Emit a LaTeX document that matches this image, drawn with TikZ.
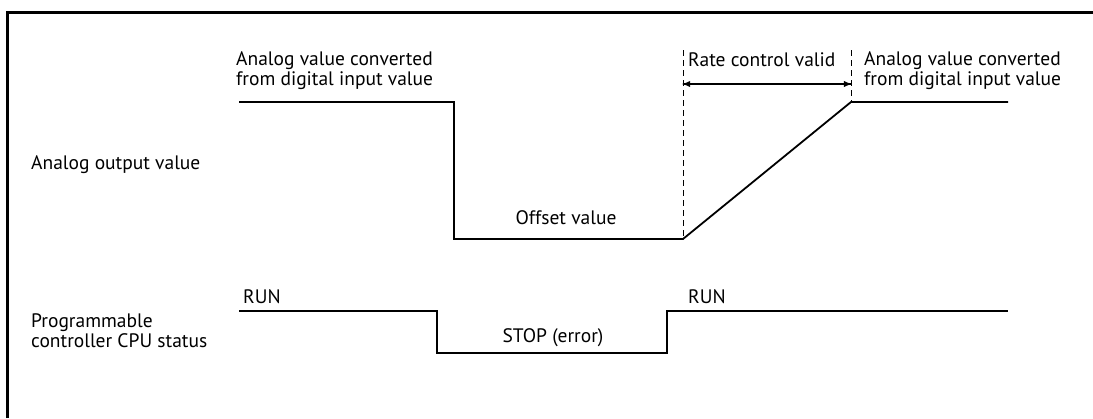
\documentclass[tikz,border=0pt]{standalone}
\usepackage{fontspec}
\setmainfont{PT Sans}
\begin{document}
\begin{tikzpicture}[x=1pt, y=-1pt,
            label/.style={inner sep=0pt, align=left, font=\fontsize{19.5}{20}\selectfont},
            wave/.style={line width=1.8pt},
            guide/.style={line width=0.8pt, dash pattern=on 6pt off 4pt},
        ]
            \useasboundingbox (0,0) rectangle (1093,418);
            \draw[line width=3pt] (7,418) -- (7,12) -- (1093,12);
            % analog output waveform
            \coordinate (a1) at (239,102);
            \coordinate (a2) at (454,102);
            \coordinate (a3) at (454,239);
            \coordinate (a4) at (683,239);
            \coordinate (a5) at (851,102);
            \coordinate (a6) at (1008,102);
            \draw[wave] (a1) -- (a2) -- (a3) -- (a4) -- (a5) -- (a6);
            % CPU status waveform
            \coordinate (c1) at (239,311);
            \coordinate (c2) at (437,311);
            \coordinate (c3) at (437,353);
            \coordinate (c4) at (667,353);
            \coordinate (c5) at (667,311);
            \coordinate (c6) at (1008,311);
            \draw[wave] (c1) -- (c2) -- (c3) -- (c4) -- (c5) -- (c6);
            % rate control region
            \coordinate (r1) at (683,50);
            \coordinate (r2) at (851,50);
            \coordinate (s1) at (683,84);
            \coordinate (s2) at (851,84);
            \draw[guide] (r1) -- (a4);
            \draw[guide] (r2) -- (a5);
            \draw[line width=1.8pt, -latex, shorten >=-1pt] (s1) -- (s2);
            \draw[line width=1.8pt, -latex, shorten >=-1pt] (s2) -- (s1);
            \node[label, anchor=base west] (ratetxt) at (688,66) {Rate control valid};
            \node[label, anchor=north west] (convleft) at (236,51) {Analog value converted\\from digital input value};
            \node[label, anchor=north west] (convright) at (864,51) {Analog value converted\\from digital input value};
            \node[label, anchor=base] (offset) at (566,224) {Offset value};
            \node[label, anchor=base west] (outtxt) at (31,169) {Analog output value};
            \node[label, anchor=base west] (run1) at (243,303) {RUN};
            \node[label, anchor=base west] (run2) at (688,303) {RUN};
            \node[label, anchor=base] (stop) at (553,342) {STOP (error)};
            \node[label, anchor=north west] (cputxt) at (31,313) {Programmable\\controller CPU status};
        \end{tikzpicture}
\end{document}
